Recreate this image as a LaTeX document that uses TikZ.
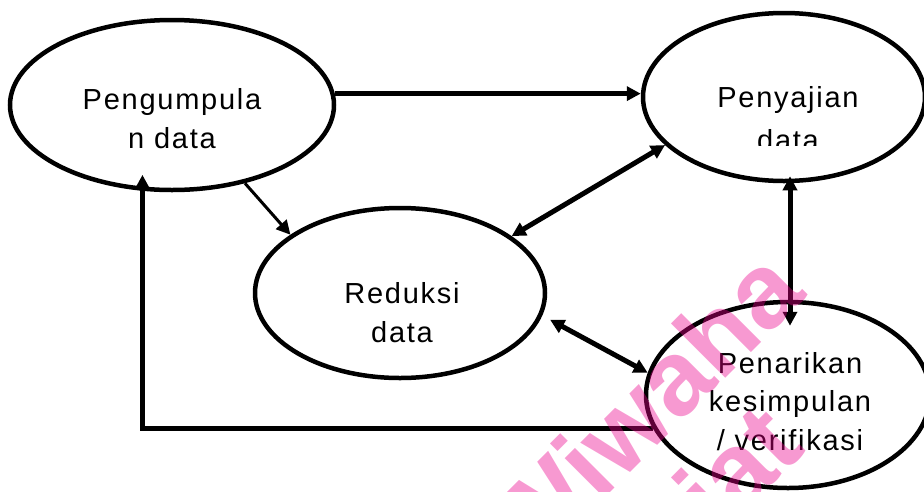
\documentclass[tikz,border=0pt]{standalone}
\usepackage{fontspec}
\setmainfont{Liberation Sans}[LetterSpace=6]
\newfontfamily\markfont{Liberation Sans}
\usetikzlibrary{shapes.geometric,arrows.meta}

\tikzset{
  >={Triangle[length=14pt,width=14pt]},
  stage/.style={ellipse, draw, line width=4.5pt, fill=white, inner sep=0pt},
  stagetext/.style={font=\fontsize{29}{38.5}\selectfont, align=center, inner sep=0pt, anchor=base},
  flow/.style={line width=5pt, line join=miter},
  thinflow/.style={line width=3pt},
  stamp/.style={font=\markfont\bfseries\fontsize{106}{106}\selectfont, text=magenta, text opacity=0.4, rotate=45, inner sep=0pt}
}

\begin{document}
\begin{tikzpicture}[x=1pt,y=-1pt]
  \useasboundingbox (0,0) rectangle (924,491);

  % the four stages
  \node[stage, minimum width=324pt, minimum height=170pt] (peng) at (172,105) {};
  \node[stage, minimum width=282pt, minimum height=168pt] (peny) at (784,97) {};
  \node[stage, minimum width=290pt, minimum height=170pt] (red)  at (400,293) {};
  \node[stage, minimum width=284pt, minimum height=186pt] (pen)  at (788,395) {};

  % stage names (a node's base is the baseline of its last line)
  \node[stagetext] (pengtext) at (172,148) {Pengumpula\\n data};
  \node[stagetext] (penytext) at (788,107) {Penyajian};
  \begin{scope}
    \clip (600,0) rectangle (924,145);
    \node[stagetext] (penydata) at (788,150) {data};
  \end{scope}
  \node[stagetext] (redtext) at (402,342) {Reduksi\\data};
  \node[stagetext] (pentext) at (790,450) {Penarikan\\kesimpulan\\/ verifikasi};

  % flows between the stages
  \draw[flow,->] (peng.4) -- (peng.4 -| peny.west);
  \draw[thinflow,->] (peng.-47) -- (red.152);
  \draw[flow,<->] (red.27) -- (peny.202);
  \draw[flow,<->] ([xshift=6pt,yshift=7pt]peny.south) -- ([xshift=2pt,yshift=-26pt]pen.north);
  \draw[flow,<->,shorten <=9pt] (red.-9) -- (pen.171);
  \draw[flow,->] (pen.194) -| ([yshift=16pt]peng.251);

  % stamp across the lower right
  \node[stamp] (stampa) at (642,408) {Wiwaha};
  \node[stamp] (stampb) at (737,467) {iat};
\end{tikzpicture}
\end{document}
